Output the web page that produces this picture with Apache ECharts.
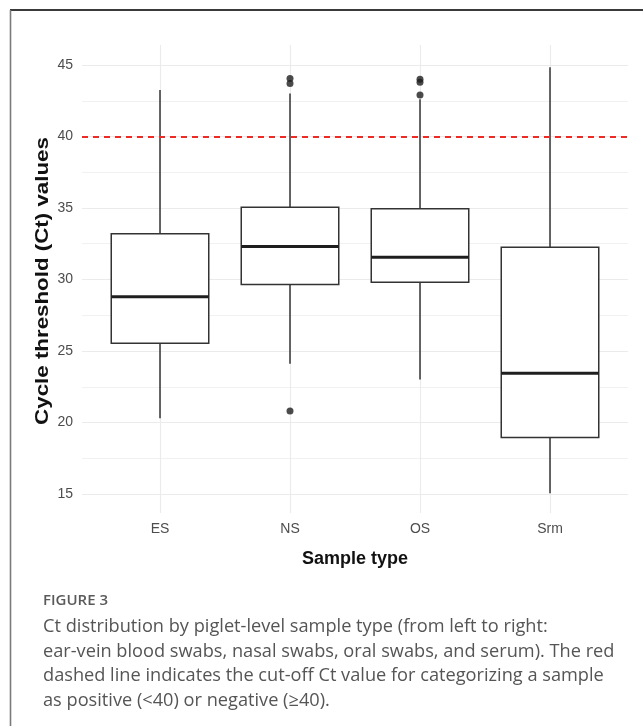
<!DOCTYPE html>
<html>
<head>
<meta charset="utf-8">
<script src="https://cdn.jsdelivr.net/npm/echarts@6/dist/echarts.min.js"></script>
<style>
  html, body { margin: 0; padding: 0; background: #ffffff; }
  #chart { width: 643px; height: 726px; }
</style>
</head>
<body>
<div id="chart"></div>
<script>
// Ct values per piglet-level sample type
const categories = ['ES', 'NS', 'OS', 'Srm'];
const whiskerLow = [20.3, 24.1, 23.0, 15.05];
const lowerQuartile = [25.55, 29.65, 29.8, 18.95];
const medianCt = [28.8, 32.3, 31.55, 23.45];
const upperQuartile = [33.2, 35.05, 34.95, 32.25];
const whiskerHigh = [43.25, 43.0, 42.6, 44.85];
const outlierCategory = ['NS', 'NS', 'NS', 'OS', 'OS', 'OS'];
const outlierCt = [44.05, 43.7, 20.8, 44.0, 43.8, 42.9];
const cutoffCt = 40;
const yTickMin = 15;
const yTickMax = 45;
const yTickStep = 5;

const fontSans = '"Liberation Sans", Arial, sans-serif';
const fontCaption = '"Open Sans", "Noto Sans", sans-serif';
const gridColor = '#ebebeb';
const inkColor = '#333333';

const boxData = categories.map((c, i) => [
  i, whiskerLow[i], lowerQuartile[i], medianCt[i], upperQuartile[i], whiskerHigh[i]
]);
const outlierData = outlierCategory.map((c, i) => [c, outlierCt[i]]);

// box + whiskers (no end caps), white fill, thick median bar
function renderBox(params, api) {
  const x = api.value(0);
  const band = api.size([1, 0])[0];
  const half = band * 0.75 / 2;
  const pLow = api.coord([x, api.value(1)]);
  const pQ1 = api.coord([x, api.value(2)]);
  const pMed = api.coord([x, api.value(3)]);
  const pQ3 = api.coord([x, api.value(4)]);
  const pHigh = api.coord([x, api.value(5)]);
  const cx = pMed[0];
  const lw = 1.5;
  return {
    type: 'group',
    children: [
      { type: 'line', shape: { x1: cx, y1: pLow[1], x2: cx, y2: pQ1[1] }, style: { stroke: inkColor, lineWidth: lw } },
      { type: 'line', shape: { x1: cx, y1: pQ3[1], x2: cx, y2: pHigh[1] }, style: { stroke: inkColor, lineWidth: lw } },
      { type: 'rect', shape: { x: cx - half, y: pQ3[1], width: 2 * half, height: pQ1[1] - pQ3[1] },
        style: { fill: '#ffffff', stroke: inkColor, lineWidth: lw } },
      { type: 'line', shape: { x1: cx - half, y1: pMed[1], x2: cx + half, y2: pMed[1] },
        style: { stroke: '#1e1e1e', lineWidth: 3 } }
    ]
  };
}

const chart = echarts.init(document.getElementById('chart'), null, { renderer: 'canvas' });

chart.setOption({
  backgroundColor: '#ffffff',
  animation: false,
  grid: [
    // panel used for the horizontal grid, y tick labels and the cut-off line
    { left: 82, top: 65, width: 546, height: 429, containLabel: false },
    // panel holding the boxes (includes the padded range around the data)
    { left: 95, top: 45, width: 520, height: 468, containLabel: false }
  ],
  xAxis: [
    { gridIndex: 0, type: 'value', min: 0, max: 1, show: false },
    {
      gridIndex: 1, type: 'category', data: categories, boundaryGap: true,
      axisLine: { show: false }, axisTick: { show: false }, splitLine: { show: false },
      axisLabel: { color: '#4d4d4d', fontSize: 14, fontFamily: fontSans, margin: 9 },
      name: 'Sample type', nameLocation: 'middle', nameGap: 37,
      nameTextStyle: { color: '#111111', fontSize: 18, fontWeight: 'bold', fontFamily: fontSans }
    }
  ],
  yAxis: [
    {
      gridIndex: 0, type: 'value', min: yTickMin, max: yTickMax, interval: yTickStep,
      axisLine: { show: false }, axisTick: { show: false },
      axisLabel: { color: '#4d4d4d', fontSize: 14, fontFamily: fontSans, margin: 9 },
      splitLine: { show: true, lineStyle: { color: gridColor, width: 1.2 } },
      minorTick: { show: false, splitNumber: 2 },
      minorSplitLine: { show: true, lineStyle: { color: '#efefef', width: 0.9 } }
    },
    { gridIndex: 1, type: 'value', min: 13.67, max: 46.4, show: false }
  ],
  series: [
    {
      // vertical grid lines at each sample type
      type: 'line', xAxisIndex: 1, yAxisIndex: 1, data: [], z: 1, silent: true,
      markLine: {
        z: 1, silent: true, symbol: ['none', 'none'], label: { show: false },
        lineStyle: { color: gridColor, width: 1.1, type: 'solid' },
        data: categories.map(c => ({ xAxis: c }))
      }
    },
    {
      type: 'custom', xAxisIndex: 1, yAxisIndex: 1, z: 3,
      renderItem: renderBox,
      encode: { x: 0, y: [1, 2, 3, 4, 5] },
      data: boxData
    },
    {
      type: 'scatter', xAxisIndex: 1, yAxisIndex: 1, z: 4,
      symbol: 'circle', symbolSize: 7,
      itemStyle: { color: '#1e1e1e' },
      data: outlierData
    },
    {
      // positivity cut-off
      type: 'line', xAxisIndex: 0, yAxisIndex: 0, data: [], z: 6, silent: true,
      markLine: {
        z: 10, silent: true, symbol: ['none', 'none'], label: { show: false },
        lineStyle: { color: '#ee2a24', width: 1.8, type: [6, 5] },
        data: [{ yAxis: cutoffCt }]
      }
    }
  ],
  graphic: [
    { type: 'line', silent: true, shape: { x1: 10, y1: 10, x2: 643, y2: 10 },
      style: { stroke: '#3a3a3a', lineWidth: 2 } },
    { type: 'line', silent: true, shape: { x1: 10.5, y1: 10, x2: 10.5, y2: 726 },
      style: { stroke: '#7a7a7a', lineWidth: 1.6 } },
    // y-axis title, stretched along its length
    { type: 'text', silent: true, x: 43.5, y: 281, rotation: Math.PI / 2, scaleX: 1.24,
      style: { text: 'Cycle threshold (Ct) values', font: 'bold 18px ' + fontSans, fill: '#111111',
               align: 'center', verticalAlign: 'middle' } },
    { type: 'text', silent: true, left: 43, top: 593,
      style: { text: 'FIGURE 3', font: '600 15px ' + fontCaption, fill: '#5a5a5a' } },
    { type: 'text', silent: true, left: 43, top: 615,
      style: {
        text: 'Ct distribution by piglet-level sample type (from left to right:\n' +
              'ear-vein blood swabs, nasal swabs, oral swabs, and serum). The red\n' +
              'dashed line indicates the cut-off Ct value for categorizing a sample\n' +
              'as positive (<40) or negative (\u226540).',
        font: '18.2px ' + fontCaption, fill: '#555555', lineHeight: 24.5
      } }
  ]
});
</script>
</body>
</html>
